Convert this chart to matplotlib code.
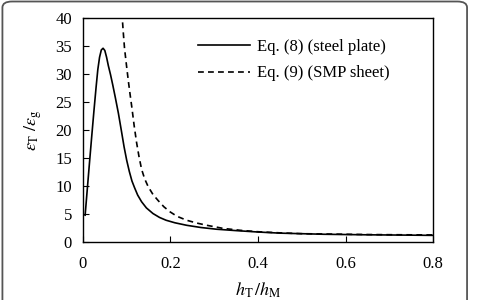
import numpy as np
import matplotlib
matplotlib.use("Agg")
import matplotlib.pyplot as plt
from matplotlib.patches import FancyBboxPatch

plt.rcParams['font.family'] = ['Liberation Serif', 'DejaVu Serif']
plt.rcParams['mathtext.fontset'] = 'stix'

# Eq. (8) steel plate
steel_x = [0.005, 0.01, 0.015, 0.02, 0.025, 0.03, 0.034, 0.038, 0.042, 0.046,
           0.05, 0.054, 0.058, 0.063, 0.068, 0.074, 0.081, 0.088, 0.094, 0.1,
           0.106, 0.112, 0.118, 0.125, 0.134, 0.145, 0.16, 0.175, 0.19, 0.21,
           0.237, 0.27, 0.305, 0.35, 0.4, 0.45, 0.5, 0.55, 0.6, 0.65,
           0.7, 0.75, 0.8]
steel_y = [4.8, 9.5, 14.2, 18.8, 23.3, 27.6, 30.8, 33.0, 34.3, 34.6,
           34.2, 33.0, 31.5, 29.9, 28.1, 25.8, 23.0, 19.8, 17.0, 14.6,
           12.6, 10.9, 9.7, 8.4, 7.2, 6.1, 5.1, 4.4, 3.9, 3.45,
           3.0, 2.6, 2.3, 2.05, 1.8, 1.6, 1.5, 1.4, 1.35, 1.3,
           1.27, 1.24, 1.2]

# Eq. (9) SMP sheet
smp_x = [0.089, 0.092, 0.095, 0.1, 0.104, 0.108, 0.112, 0.117, 0.1225, 0.128,
         0.134, 0.141, 0.149, 0.16, 0.172, 0.185, 0.199, 0.215, 0.237, 0.26,
         0.283, 0.32, 0.36, 0.4, 0.45, 0.5, 0.55, 0.6, 0.65, 0.7, 0.75, 0.8]
smp_y = [41.0, 37.6, 34.6, 31.2, 28.6, 26.2, 23.9, 20.8, 17.8, 15.3,
         13.0, 11.3, 9.9, 8.5, 7.4, 6.3, 5.4, 4.6, 3.9, 3.4,
         3.0, 2.45, 2.1, 1.85, 1.65, 1.5, 1.45, 1.4, 1.35, 1.32, 1.3, 1.28]

fig = plt.figure(figsize=(4.85, 3.0), dpi=100)
ax = fig.add_axes([0.171, 0.193, 0.722, 0.747])

ax.plot(steel_x, steel_y, color='black', lw=1.2, label='Eq. (8) (steel plate)')
ax.plot(smp_x, smp_y, color='black', lw=1.2, ls=(0, (3.5, 2.5)),
        label='Eq. (9) (SMP sheet)')

ax.set_xlim(0, 0.8)
ax.set_ylim(0, 40)
ax.set_xticks([0, 0.2, 0.4, 0.6, 0.8])
ax.set_xticklabels(['0', '0.2', '0.4', '0.6', '0.8'])
ax.set_yticks(range(0, 41, 5))
ax.tick_params(direction='in', length=4, labelsize=12, top=False, right=False)
ax.tick_params(axis='x', pad=10)
ax.tick_params(axis='y', pad=8)
for s in ax.spines.values():
    s.set_linewidth(1.0)

ax.set_xlabel(r'$h_\mathrm{T}\,/h_\mathrm{M}$', fontsize=13, labelpad=6)
ax.set_ylabel(r'$\varepsilon_\mathrm{T}\ /\varepsilon_\mathrm{g}$', fontsize=13, labelpad=8)

ax.legend(loc='upper right', frameon=False, fontsize=12, handlelength=3.1,
          labelspacing=0.65, handletextpad=0.45, bbox_to_anchor=(0.92, 0.975))

# rounded frame around the figure
frame = FancyBboxPatch((0.005, -0.05), 0.958, 1.045, transform=fig.transFigure,
                       boxstyle='round,pad=0,rounding_size=0.02',
                       fill=False, ec='#555555', lw=1.3)
fig.patches.append(frame)

fig.savefig('out.png', dpi=100)
